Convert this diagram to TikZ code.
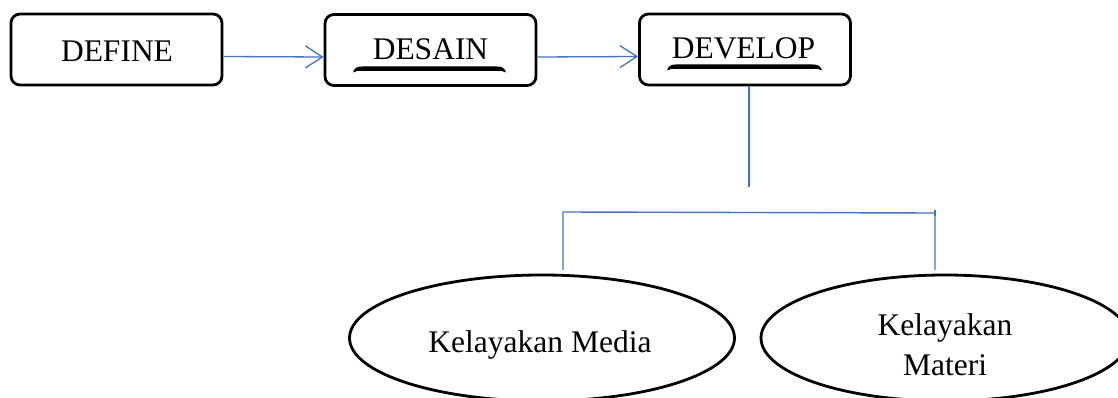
\documentclass[tikz,border=0pt]{standalone}
\usepackage{fontspec}
\setmainfont{Liberation Serif}
\usetikzlibrary{arrows.meta,shapes.geometric}
\definecolor{linkblue}{RGB}{68,114,196}
\newcommand\ulbrace[3]{%
 \fill ({#1},{#3+3.5}) .. controls ({#1+1},{#3-1}) and ({#1+4},{#3-2.5}) .. ({#1+9},{#3-2.5}) -- ({#2-9},{#3-2.5}) .. controls ({#2-4},{#3-2.5}) and ({#2-1},{#3-1}) .. ({#2},{#3+3.5}) .. controls ({#2-3},{#3+1.5}) and ({#2-5},{#3+2}) .. ({#2-9},{#3+2}) -- ({#1+9},{#3+2}) .. controls ({#1+5},{#3+2}) and ({#1+3},{#3+1.5}) .. ({#1},{#3+3.5}) -- cycle;}
\tikzset{
  stagebox/.style={draw, line width=2.8pt, rounded corners=9pt, minimum width=211pt, minimum height=71pt, inner sep=0pt},
  ovalbox/.style={draw, ellipse, line width=2.8pt, inner sep=0pt},
  txt/.style={font=\fontsize{31.5}{40}\selectfont, inner sep=0pt},
  flow/.style={draw=linkblue, line width=1.3pt, -{Straight Barb[length=17pt,width=22pt,line width=1.3pt]}},
  tree/.style={draw=linkblue, line width=1.4pt},
}
\begin{document}
\begin{tikzpicture}[x=1pt,y=-1pt]
\clip (0,0) rectangle (1118,398);
\fill[white] (0,0) rectangle (1118,398);
\node[stagebox] (define) at (116.5,49.5) {};
\node[txt, anchor=base] (definet) at (117,62) {DEFINE};
\node[stagebox] (desain) at (430.5,50) {};
\node[txt, anchor=base] (desaint) at (430.5,60) {DESAIN};
\node[stagebox] (develop) at (745,49.5) {};
\node[txt, anchor=base] (developt) at (743.5,59) {DEVELOP};
\ulbrace{353}{506}{69}
\ulbrace{667}{822}{67}
\draw[flow] ([yshift=-7pt]define.east) -- ([yshift=-7pt]desain.west);
\draw[flow] ([yshift=-7pt]desain.east) -- ([yshift=-7pt]develop.west);
\coordinate (d1) at (749,187);
\coordinate (hl) at (563,212);
\coordinate (hr) at (935,213);
\coordinate (vl) at (563,270);
\coordinate (vr) at (935,270);
\draw[tree] ([xshift=4pt]develop.south) -- (d1);
\draw[tree] (vl) -- (hl) -- (hr) -- (vr);
\draw[tree] ([yshift=3pt]hr) -- ([yshift=-3pt]hr);
\node[ovalbox, minimum width=385pt, minimum height=126pt] (media) at (542,338) {};
\node[txt, anchor=base] (mediat) at (540,352) {Kelayakan Media};
\node[ovalbox, minimum width=368pt, minimum height=126pt] (materi) at (945,338) {};
\node[txt, anchor=base] (materit1) at (945,335) {Kelayakan};
\node[txt, anchor=base] (materit2) at (945,375) {Materi};
\end{tikzpicture}
\end{document}
